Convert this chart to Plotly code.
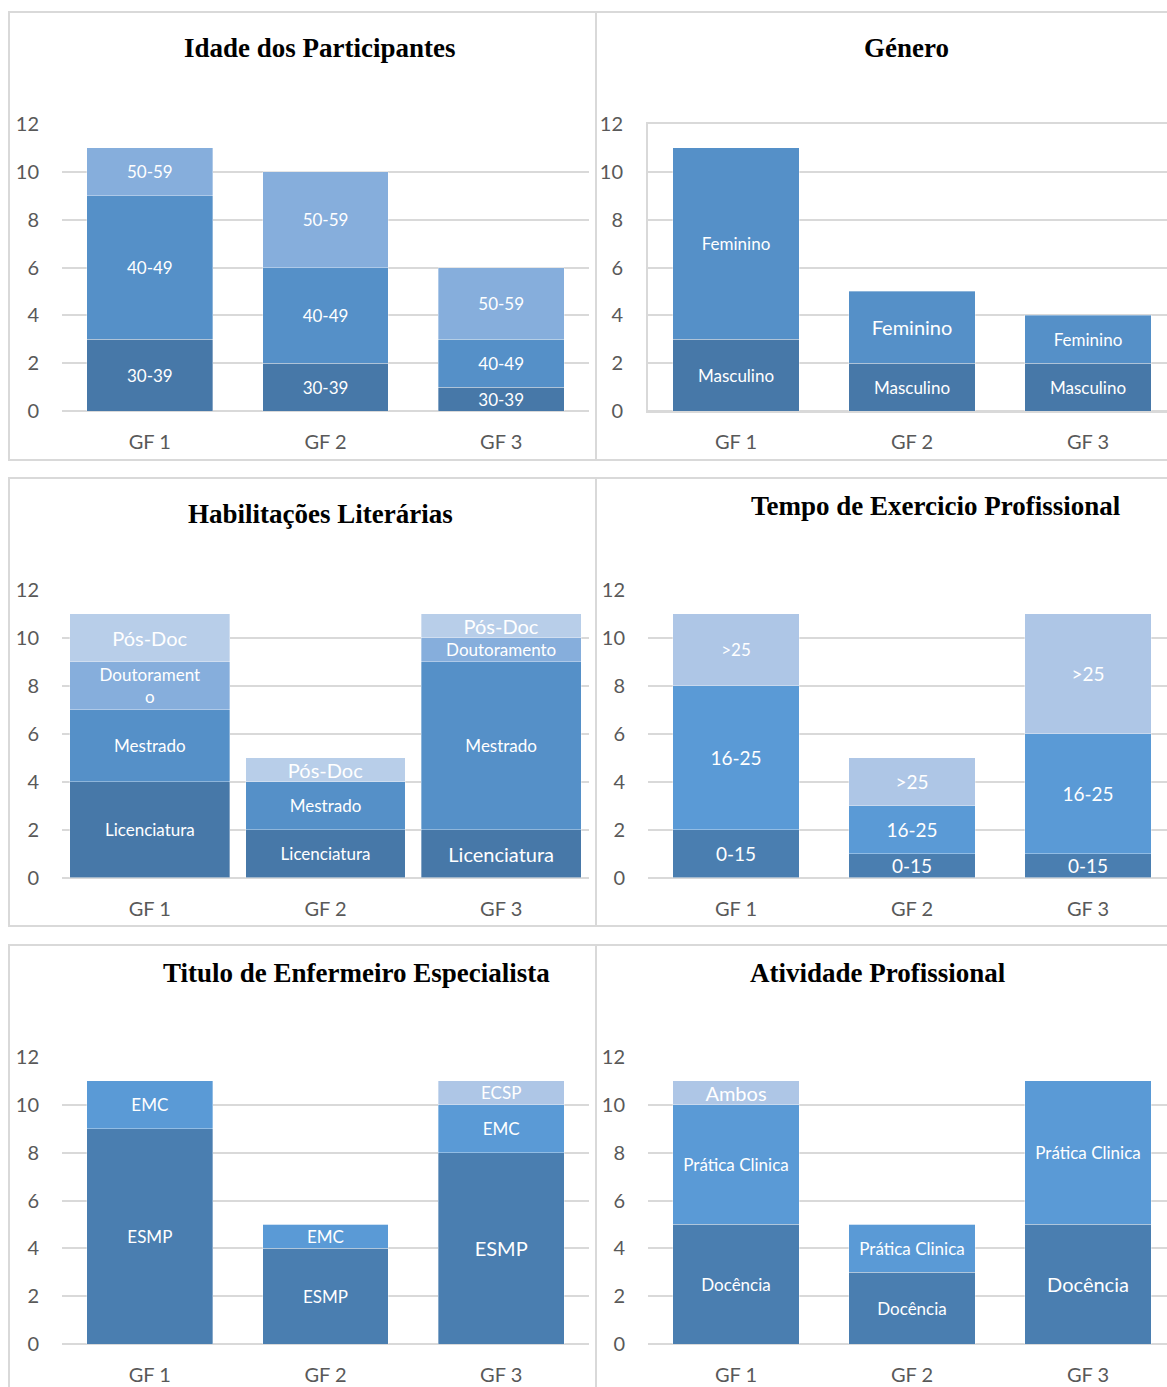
import plotly.graph_objects as go

W, H = 1167, 1387

groups = ["GF 1", "GF 2", "GF 3"]
y_ticks = [0, 2, 4, 6, 8, 10, 12]

# --- Idade dos Participantes ---
idade_30_39 = [3, 2, 1]
idade_40_49 = [6, 4, 2]
idade_50_59 = [2, 4, 3]

# --- Género ---
genero_masculino = [3, 2, 2]
genero_feminino = [8, 3, 2]

# --- Habilitações Literárias ---
hab_licenciatura = [4, 2, 2]
hab_mestrado = [3, 2, 7]
hab_doutoramento = [2, 0, 1]
hab_posdoc = [2, 1, 1]
hab_doutoramento_text = ["Doutorament<br>o", "", "Doutoramento"]

# --- Tempo de Exercicio Profissional ---
tempo_0_15 = [2, 1, 1]
tempo_16_25 = [6, 2, 5]
tempo_mais_25 = [3, 2, 5]

# --- Titulo de Enfermeiro Especialista ---
titulo_esmp = [9, 4, 8]
titulo_emc = [2, 1, 2]
titulo_ecsp = [0, 0, 1]

# --- Atividade Profissional ---
ativ_docencia = [5, 3, 5]
ativ_pratica = [5, 2, 6]
ativ_ambos = [1, 0, 0]


def xp(px):
    return px / W


def yp(py):
    return 1 - py / H


C_DARK = "#4778A8"
C_MID = "#5590C8"
C_LIGHT = "#86AEDC"
C_PALE = "#B8CEE9"
C_DARK2 = "#4A7EB0"
C_MID2 = "#5A9AD6"
C_PALE2 = "#AEC6E6"

LEFT = dict(x0=62, x1=589, rng=[-0.5, 2.5])
RIGHT = dict(x0=648, x1=W, rng=[-0.5, -0.5 + (W - 648) / 176.0])
ROW1 = (411, 124)
ROW2 = (877.5, 590)
ROW3 = (1344, 1057)

S, L = 17, 20  # small / large label font sizes

panels = [
    dict(title="Idade dos Participantes", tx=320, ty=48, col=LEFT, row=ROW1, width=0.716, border=False,
         series=[("30-39", idade_30_39, C_DARK, None, [S, S, S]),
                 ("40-49", idade_40_49, C_MID, None, [S, S, S]),
                 ("50-59", idade_50_59, C_LIGHT, None, [S, S, S])]),
    dict(title="Género", tx=907, ty=48, col=RIGHT, row=ROW1, width=0.716, border=True,
         series=[("Masculino", genero_masculino, C_DARK, None, [S, S, S]),
                 ("Feminino", genero_feminino, C_MID, None, [S, L, S])]),
    dict(title="Habilitações Literárias", tx=320, ty=514, col=LEFT, row=ROW2, width=0.909, border=False,
         series=[("Licenciatura", hab_licenciatura, C_DARK, None, [S, S, L]),
                 ("Mestrado", hab_mestrado, C_MID, None, [S, S, S]),
                 ("Doutoramento", hab_doutoramento, C_LIGHT, hab_doutoramento_text, [S, S, S]),
                 ("Pós-Doc", hab_posdoc, C_PALE, None, [L, L, L])]),
    dict(title="Tempo de Exercicio Profissional", tx=936, ty=506, col=RIGHT, row=ROW2, width=0.716, border=False,
         series=[("0-15", tempo_0_15, C_DARK2, None, [19, 19, 19]),
                 ("16-25", tempo_16_25, C_MID2, None, [19, 19, 19]),
                 (">25", tempo_mais_25, C_PALE2, None, [S, 19, 19])]),
    dict(title="Titulo de Enfermeiro Especialista", tx=356, ty=973, col=LEFT, row=ROW3, width=0.716, border=False,
         series=[("ESMP", titulo_esmp, C_DARK2, None, [S, S, L]),
                 ("EMC", titulo_emc, C_MID2, None, [S, S, S]),
                 ("ECSP", titulo_ecsp, C_PALE2, None, [S, S, S])]),
    dict(title="Atividade Profissional", tx=878, ty=973, col=RIGHT, row=ROW3, width=0.716, border=False,
         series=[("Docência", ativ_docencia, C_DARK2, None, [S, S, L]),
                 ("Prática Clinica", ativ_pratica, C_MID2, None, [S, S, S]),
                 ("Ambos", ativ_ambos, C_PALE2, None, [L, L, L])]),
]

fig = go.Figure()
layout = dict(
    width=W, height=H, autosize=False,
    margin=dict(l=0, r=0, t=0, b=0, pad=0, autoexpand=False),
    paper_bgcolor="white", plot_bgcolor="white",
    showlegend=False, barmode="stack",
    shapes=[], annotations=[],
)

TICKFONT = dict(family="Lato, Carlito, sans-serif", size=20, color="#595959")
GRID = "#d9d9d9"

for i, p in enumerate(panels, start=1):
    xa = "x" if i == 1 else f"x{i}"
    ya = "y" if i == 1 else f"y{i}"
    for name, vals, color, texts, sizes in p["series"]:
        if texts is None:
            texts = [name if v else "" for v in vals]
        fig.add_trace(go.Bar(
            x=groups, y=vals, name=name, xaxis=xa, yaxis=ya,
            width=[p["width"]] * len(vals),
            marker=dict(color=color, line=dict(width=0.75, color="rgba(255,255,255,0.45)")),
            text=texts, textposition="inside", insidetextanchor="middle",
            textangle=0, constraintext="none", cliponaxis=False,
            insidetextfont=dict(family="Lato, Carlito, sans-serif", size=sizes, color="white"),
            hoverinfo="skip",
        ))
    col, row = p["col"], p["row"]
    xkey = "xaxis" if i == 1 else f"xaxis{i}"
    ykey = "yaxis" if i == 1 else f"yaxis{i}"
    layout[xkey] = dict(
        domain=[xp(col["x0"]), xp(col["x1"])], range=col["rng"], anchor=ya,
        type="category", showgrid=False, zeroline=False, ticks="", automargin=False,
        showline=p["border"], mirror=p["border"], linecolor=GRID, linewidth=2,
        tickfont=TICKFONT, ticklabelstandoff=(12 if p["border"] else 17), fixedrange=True,
    )
    layout[ykey] = dict(
        domain=[yp(row[0]), yp(row[1])], range=[0, 12], anchor=xa, automargin=False,
        tickvals=y_ticks, showgrid=True, gridcolor=GRID, gridwidth=2,
        zeroline=True, zerolinecolor=GRID, zerolinewidth=2, ticks="",
        showline=p["border"], linecolor=GRID, linewidth=2,
        tickfont=TICKFONT, ticklabelstandoff=(19 if p["border"] else 22), fixedrange=True,
    )
    layout["annotations"].append(dict(
        text=f"<b>{p['title']}</b>", xref="paper", yref="paper",
        x=xp(p["tx"]), y=yp(p["ty"]), xanchor="center", yanchor="middle",
        showarrow=False, font=dict(family="Liberation Serif, Times New Roman, serif", size=27, color="black"),
    ))

# panel frames
frames = [(9, 12, 596, 460), (596, 12, 1200, 460),
          (9, 478, 596, 926), (596, 478, 1200, 926),
          (9, 945, 596, 1420), (596, 945, 1200, 1420)]
for x0, y0, x1, y1 in frames:
    layout["shapes"].append(dict(
        type="rect", xref="paper", yref="paper",
        x0=xp(x0), x1=xp(x1), y0=yp(y1), y1=yp(y0),
        line=dict(color="#d9d9d9", width=2), layer="below",
    ))

fig.update_layout(**layout)
fig.write_html("out.html")
